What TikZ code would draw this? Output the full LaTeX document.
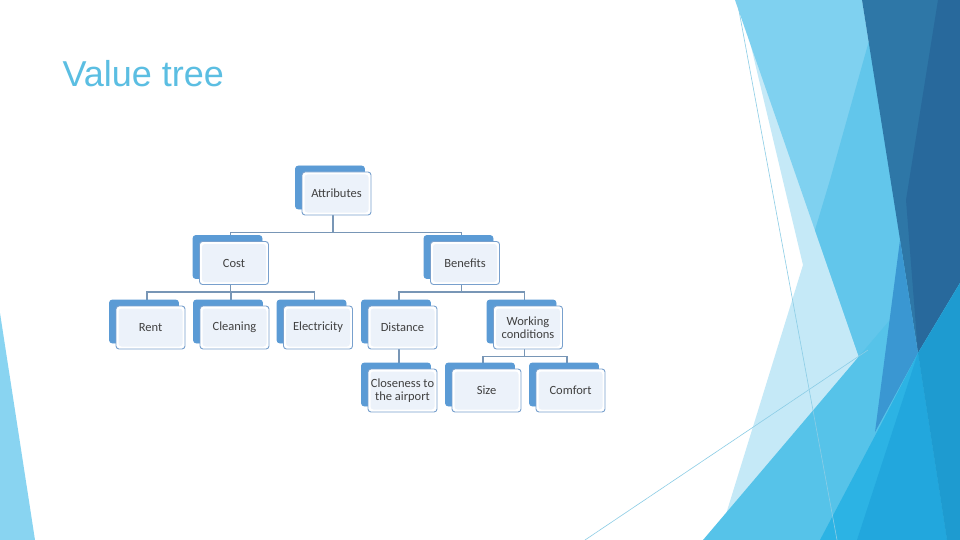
\documentclass[tikz,border=0pt]{standalone}
\usepackage{fontspec}
\setmainfont{Carlito}
\newfontfamily\titlefont{Liberation Sans}
\usetikzlibrary{shadows,backgrounds,calc}
\definecolor{titleBlue}{RGB}{91,190,226}
\definecolor{boxDark}{RGB}{91,155,213}
\definecolor{boxEdge}{RGB}{120,160,205}
\definecolor{boxFill}{RGB}{236,242,250}
\definecolor{boxText}{RGB}{64,64,64}
\definecolor{linkGray}{RGB}{120,150,182}
\definecolor{facetPale}{RGB}{197,233,247}
\definecolor{facetLight}{RGB}{127,209,240}
\definecolor{facetMid}{RGB}{98,198,235}
\definecolor{facetDark}{RGB}{46,119,167}
\definecolor{facetDeep}{RGB}{40,105,156}
\definecolor{facetSky}{RGB}{86,195,233}
\definecolor{facetBright}{RGB}{44,179,228}
\definecolor{facetOcean}{RGB}{34,167,221}
\definecolor{facetSea}{RGB}{30,155,208}
\definecolor{facetMix}{RGB}{58,151,210}
\definecolor{facetLeft}{RGB}{137,212,241}
\definecolor{facetLine}{RGB}{140,205,230}

\begin{document}
\begin{tikzpicture}[x=1pt,y=-1pt,
    box/.style={draw=boxEdge,line width=0.9pt,rounded corners=3pt,fill=white,
      minimum width=69pt,minimum height=43pt,inner sep=2pt,align=center,
      text=boxText,font=\fontsize{12.5}{13}\selectfont,
      path picture={\fill[boxFill] ($(path picture bounding box.south west)+(2.5pt,2.5pt)$)
        rectangle ($(path picture bounding box.north east)-(2.5pt,2.5pt)$);},
      copy shadow={shadow xshift=-6.5pt,shadow yshift=6pt,fill=boxDark,draw=boxDark,opacity=1}},
    link/.style={draw=linkGray,line width=1.3pt},
    facet/.style={draw=none}
  ]
    \useasboundingbox (0,0) rectangle (960,540);
    \begin{scope}[on background layer]
      \fill[white] (0,0) rectangle (960,540);
    \end{scope}

    % facet background
    \fill[facet,facetLeft] (0,313) -- (35,540) -- (0,540) -- cycle;
    \fill[facet,facetPale] (740,0) -- (803,265) -- (718,540) -- (960,540) -- (960,0) -- cycle;
    \fill[facet,facetLight] (735,0) -- (862,0) -- (918,353) -- (860,360) -- cycle;
    \fill[facet,facetMid] (872,30) -- (918,353) -- (860,360) -- (815,230) -- (830,180) -- cycle;
    \fill[facet,facetDark] (862,0) -- (960,0) -- (960,283) -- (918,353) -- cycle;
    \fill[facet,facetDeep] (938,0) -- (960,0) -- (960,283) -- (918,353) -- (906,200) -- cycle;
    \fill[facet,facetSky] (703,540) -- (900,308) -- (918,353) -- (960,283) -- (960,540) -- cycle;
    \fill[facet,facetMix] (900,240) -- (918,353) -- (875,432) -- cycle;
    \fill[facet,facetBright] (820,540) -- (877,432) -- (918,353) -- (947,540) -- cycle;
    \fill[facet,facetOcean] (857,540) -- (918,353) -- (947,540) -- cycle;
    \fill[facet,facetSea] (947,540) -- (918,353) -- (960,283) -- (960,540) -- cycle;
    \draw[facetLine,line width=0.6pt] (737,0) -- (837,540);
    \draw[facetLine,line width=0.6pt] (585,540) -- (868,350);

    \node[anchor=base west,text=titleBlue,font=\titlefont\fontsize{36}{40}\selectfont] (title) at (59,87) {Value tree};

    % tree
    \node[box] (attr) at (336.5,193.5) {Attributes};
    \node[box] (cost) at (234,263) {Cost};
    \node[box] (ben) at (465,263) {Benefits};
    \node[box] (rent) at (150.5,327.5) {Rent};
    \node[box] (clean) at (234.5,327.5) {Cleaning};
    \node[box] (elec) at (318,327.5) {Electricity};
    \node[box] (dist) at (402.5,327.5) {Distance};
    \node[box] (work) at (528,327.5) {Working\\conditions};
    \node[box] (close) at (402.5,390.5) {Closeness to\\the airport};
    \node[box] (size) at (486.5,390.5) {Size};
    \node[box] (comf) at (570.5,390.5) {Comfort};

    \begin{scope}[on background layer]
      \draw[link] ([xshift=-3.5pt]attr.south) -- ++(0,17) -| ([xshift=-3.5pt]cost.north);
      \draw[link] ([xshift=-3.5pt]attr.south) -- ++(0,17) -| ([xshift=-3.5pt]ben.north);
      \foreach \kid in {rent,clean,elec}
        \draw[link] ([xshift=-3.5pt]cost.south) -- ++(0,7) -| ([xshift=-3.5pt]\kid.north);
      \foreach \kid in {dist,work}
        \draw[link] ([xshift=-3.5pt]ben.south) -- ++(0,7) -| ([xshift=-3.5pt]\kid.north);
      \draw[link] ([xshift=-3.5pt]dist.south) -- ([xshift=-3.5pt]close.north);
      \foreach \kid in {size,comf}
        \draw[link] ([xshift=-3.5pt]work.south) -- ++(0,7) -| ([xshift=-3.5pt]\kid.north);
    \end{scope}
\end{tikzpicture}
\end{document}
